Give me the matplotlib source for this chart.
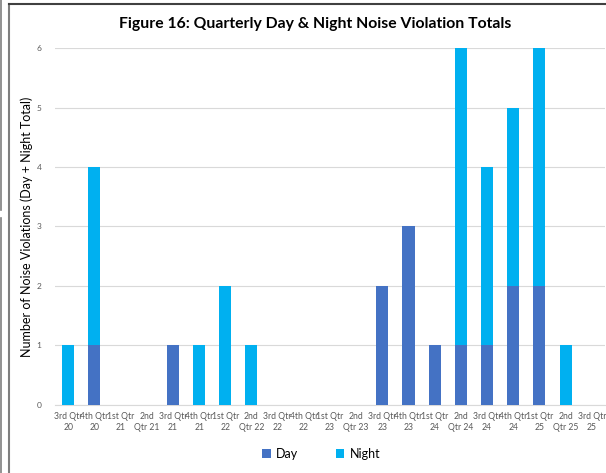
import matplotlib
matplotlib.use("Agg")
import matplotlib.pyplot as plt
import numpy as np
from matplotlib.lines import Line2D

plt.rcParams['font.family'] = ['Lato', 'DejaVu Sans']

quarters = ["3rd Qtr\n20", "4th Qtr\n20", "1st Qtr\n21", "2nd\nQtr 21", "3rd Qtr\n21",
            "4th Qtr\n21", "1st Qtr\n22", "2nd\nQtr 22", "3rd Qtr\n22", "4th Qtr\n22",
            "1st Qtr\n23", "2nd\nQtr 23", "3rd Qtr\n23", "4th Qtr\n23", "1st Qtr\n24",
            "2nd\nQtr 24", "3rd Qtr\n24", "4th Qtr\n24", "1st Qtr\n25", "2nd\nQtr 25",
            "3rd Qtr\n25"]
day = [0, 1, 0, 0, 1, 0, 0, 0, 0, 0, 0, 0, 2, 3, 1, 1, 1, 2, 2, 0, 0]
night = [1, 3, 0, 0, 0, 1, 2, 1, 0, 0, 0, 0, 0, 0, 0, 5, 3, 3, 4, 1, 0]

day_color = "#4472C4"
night_color = "#00B0F0"

fig = plt.figure(figsize=(6.06, 4.73), dpi=100)
ax = fig.add_axes([0.091, 0.1438, 0.907, 0.7547])

x = np.arange(len(quarters))
ax.bar(x, day, width=0.46, color=day_color, label="Day", zorder=3)
ax.bar(x, night, width=0.46, bottom=day, color=night_color, label="Night", zorder=3)

ax.set_xlim(-0.5, len(quarters) - 0.5)
ax.set_ylim(0, 6)
ax.set_yticks(range(7))
ax.grid(axis='y', color='#D9D9D9', linewidth=0.8, zorder=0)
ax.set_xticks(x)
ax.set_xticklabels(quarters, fontsize=6.2, color='#595959', linespacing=1.3)
ax.tick_params(axis='y', labelsize=6, colors='#595959', length=0, pad=10)
ax.tick_params(axis='x', length=0, pad=5)
for s in ['top', 'right', 'left']:
    ax.spines[s].set_visible(False)
ax.spines['bottom'].set_color('#D9D9D9')

ax.set_ylabel("Number of Noise Violations (Day + Night Total)", fontsize=9)
ax.yaxis.set_label_coords(-0.04, 0.5)
fig.text(0.52, 0.949, "Figure 16: Quarterly Day & Night Noise Violation Totals",
         ha='center', va='center', fontsize=11.3, fontweight='bold')

fig.legend(loc='center', bbox_to_anchor=(0.53, 0.04), ncol=2, frameon=False,
           fontsize=9, handlelength=0.7, handleheight=0.7, handletextpad=0.4,
           columnspacing=3.0)

# outer chart frame
fig.add_artist(Line2D([0.0145, 0.0145], [0.0, 0.992], color='#7F7F7F', linewidth=1.5))
fig.add_artist(Line2D([0.0145, 1.0], [0.992, 0.992], color='#404040', linewidth=1.5))
fig.add_artist(Line2D([0.002, 0.002], [0.0, 0.54], color='#7F7F7F', linewidth=1.2))
fig.add_artist(Line2D([0.002, 0.002], [0.555, 1.0], color='#7F7F7F', linewidth=1.2))

fig.savefig("out.png", dpi=100)
